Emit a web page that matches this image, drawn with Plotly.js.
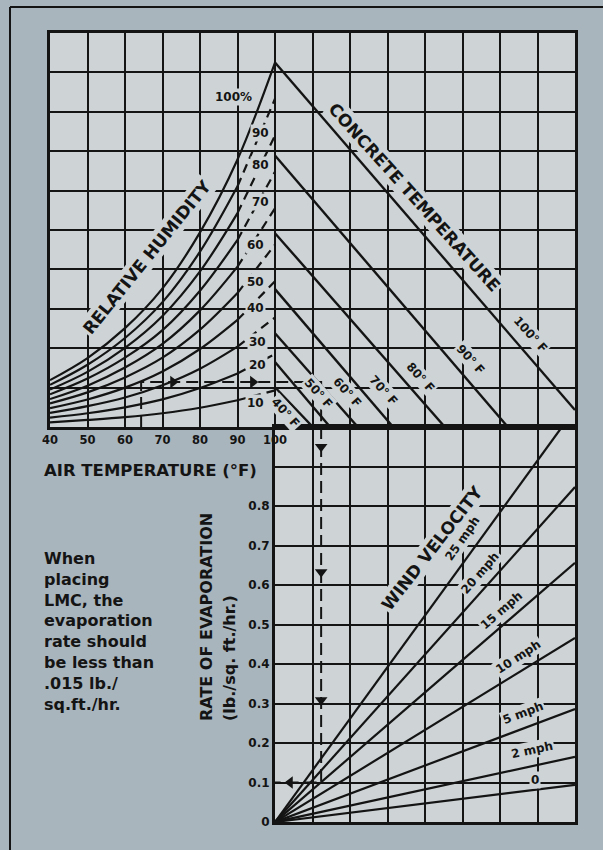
<!DOCTYPE html>
<html><head><meta charset="utf-8">
<script src="https://cdn.plot.ly/plotly-3.0.1.min.js"></script>
<style>html,body{margin:0;padding:0;background:#a9b5bd;}#chart{width:603px;height:850px;}</style>
</head><body><div id="chart"></div>
<script>
// ================= DATA =================
// Upper nomogram: air temperature axis (°F) and tick labels
const airTicks = [40, 50, 60, 70, 80, 90, 100, 110, 120, 130, 140, 150, 160, 170, 180];
const airTickText = ['40', '50', '60', '70', '80', '90', '100', '', '', '', '', '', '', '', ''];
// Relative humidity curves: vapour-pressure reading (grid units) at each air temperature
const airTemps = [40, 50, 60, 70, 80, 90, 100];
const rhLabels = ['100%', '90', '80', '70', '60', '50', '40', '30', '20', '10'];
const rh100 = [1.19, 1.75, 2.51, 3.52, 4.94, 6.79, 9.25];
const rh90  = [1.07, 1.58, 2.26, 3.17, 4.45, 6.11, 8.33];
const rh80  = [0.95, 1.40, 2.01, 2.82, 3.95, 5.43, 7.40];
const rh70  = [0.83, 1.23, 1.76, 2.46, 3.46, 4.75, 6.48];
const rh60  = [0.71, 1.05, 1.51, 2.11, 2.96, 4.07, 5.55];
const rh50  = [0.60, 0.88, 1.26, 1.76, 2.47, 3.40, 4.63];
const rh40  = [0.48, 0.70, 1.00, 1.41, 1.98, 2.72, 3.70];
const rh30  = [0.36, 0.53, 0.75, 1.06, 1.48, 2.04, 2.78];
const rh20  = [0.24, 0.35, 0.50, 0.70, 0.99, 1.36, 1.85];
const rh10  = [0.12, 0.18, 0.25, 0.35, 0.49, 0.68, 0.93];
const rhCurves = [rh100, rh90, rh80, rh70, rh60, rh50, rh40, rh30, rh20, rh10];

// Concrete temperature lines: start on the 100 °F line, end on the lower edge
const concreteLabels = ['100° F', '90° F', '80° F', '70° F', '60° F', '50° F', '40° F'];
const concreteStartVP = [9.25, 6.89, 4.92, 3.50, 2.38, 1.65, 1.01];
const concreteEndX = [180, 162.1, 145.3, 131.5, 122.1, 114.7, 110.1];
const concreteEndVP = [0.43, 0, 0, 0, 0, 0, 0];

// Lower nomogram: rate of evaporation (lb./sq. ft./hr.)
const rateTicks = [0, 0.1, 0.2, 0.3, 0.4, 0.5, 0.6, 0.7, 0.8, 0.9, 1.0];
const rateTickText = ['0', '0.1', '0.2', '0.3', '0.4', '0.5', '0.6', '0.7', '0.8', '', ''];
// Wind velocity lines from origin to their end point
const windLabels = ['25 mph', '20 mph', '15 mph', '10 mph', '5 mph', '2 mph', '0'];
const windEndX = [7.65, 8, 8, 8, 8, 8, 8];
const windEndRate = [1.0, 0.848, 0.656, 0.466, 0.286, 0.165, 0.094];

// Worked example (dashed path)
const exAirTemp = 64.3;       // °F
const exVP = 1.14;            // vapour-pressure level reached
const exConcreteX = 112.3;    // where it meets the 60 °F concrete line
const exRate = 0.1;           // resulting rate of evaporation
const exArrowsTopX = [72.8, 94.1];
const exArrowsDownRate = [0.95, 0.633, 0.309];
const exArrowLeftX = 0.4;

// ================= STYLE / LAYOUT =================
const INK = '#141414';
const PLOT_BG = '#ced4d6';
const FONT = 'DejaVu Sans, Liberation Sans, Arial, sans-serif';
const bx = v => (v - 100) / 10;   // upper-axis °F → lower-axis grid units (same pixel scale)

const traces = [];
// RH curves
rhCurves.forEach((c, i) => {
  if (i === 0) {
    traces.push({x: airTemps, y: c, xaxis: 'x', yaxis: 'y', mode: 'lines',
      line: {color: INK, width: 2.2, shape: 'spline'}});
  } else {
    traces.push({x: airTemps.slice(0, 6), y: c.slice(0, 6), xaxis: 'x', yaxis: 'y', mode: 'lines',
      line: {color: INK, width: 2.2, shape: 'spline'}});
    traces.push({x: airTemps.slice(5), y: c.slice(5), xaxis: 'x', yaxis: 'y', mode: 'lines',
      line: {color: INK, width: 2.2, dash: '9px,6px'}});
  }
});
// Concrete temperature lines
concreteLabels.forEach((l, i) => {
  traces.push({x: [100, concreteEndX[i]], y: [concreteStartVP[i], concreteEndVP[i]],
    xaxis: 'x', yaxis: 'y', mode: 'lines', line: {color: INK, width: 2.4}});
});
// Wind lines
windLabels.forEach((l, i) => {
  traces.push({x: [0, windEndX[i]], y: [0, windEndRate[i]], xaxis: 'x2', yaxis: 'y2',
    mode: 'lines', line: {color: INK, width: 2.2}});
});
// Example path
traces.push({x: [exAirTemp, exAirTemp, exConcreteX, exConcreteX], y: [0, exVP, exVP, 0],
  xaxis: 'x', yaxis: 'y', mode: 'lines', line: {color: INK, width: 2, dash: '12px,6px'}});
traces.push({x: [bx(exConcreteX), bx(exConcreteX), 0], y: [1.0, exRate, exRate],
  xaxis: 'x2', yaxis: 'y2', mode: 'lines', line: {color: INK, width: 2, dash: '12px,6px'}});
traces.push({x: exArrowsTopX, y: exArrowsTopX.map(() => exVP), xaxis: 'x', yaxis: 'y', mode: 'markers',
  marker: {symbol: 'triangle-right', size: 11, color: INK}});
traces.push({x: exArrowsDownRate.map(() => bx(exConcreteX)), y: exArrowsDownRate, xaxis: 'x2', yaxis: 'y2',
  mode: 'markers', marker: {symbol: 'triangle-down', size: 11, color: INK}});
traces.push({x: [exArrowLeftX], y: [exRate], xaxis: 'x2', yaxis: 'y2', mode: 'markers',
  marker: {symbol: 'triangle-left', size: 11, color: INK}});

// ----- annotations -----
const ann = [];
function lab(text, x, y, xref, yref, size, angle, extra) {
  ann.push(Object.assign({text: '<b>' + text + '</b>', x: x, y: y, xref: xref, yref: yref,
    showarrow: false, textangle: angle || 0, bgcolor: PLOT_BG, borderpad: 1,
    font: {family: FONT, size: size, color: INK}}, extra || {}));
}
// RH labels (positions on chart)
const rhLabX = [88.8, 96, 96, 96, 94.7, 94.7, 94.7, 95.2, 95.2, 94.7];
const rhLabY = [8.37, 7.45, 6.64, 5.70, 4.61, 3.68, 3.02, 2.15, 1.57, 0.61];
rhLabels.forEach((t, i) => lab(t, rhLabX[i], rhLabY[i], 'x', 'y', 12, 0));
lab('RELATIVE HUMIDITY', 65.9, 4.31, 'x', 'y', 17, -51);
lab('CONCRETE TEMPERATURE', 137.1, 5.83, 'x', 'y', 17, 48);
const ctLabX = [168, 152, 138.7, 128.8, 119.2, 111.5, 102.9];
const ctLabY = [2.36, 1.72, 1.27, 0.94, 0.89, 0.86, 0.36];
concreteLabels.forEach((t, i) => lab(t, ctLabX[i], ctLabY[i], 'x', 'y', 12, 48));
// Wind labels
lab('WIND VELOCITY', 4.19, 0.694, 'x2', 'y2', 17, -52);
const wLabX = [5.01, 5.47, 6.05, 6.48, 6.61, 6.85, 6.93];
const wLabY = [0.719, 0.630, 0.537, 0.418, 0.276, 0.182, 0.106];
const wLabA = [-55, -49, -41, -33, -21, -12, 0];
windLabels.forEach((t, i) => lab(t, wLabX[i], wLabY[i], 'x2', 'y2', 12, wLabA[i]));

// Free text (paper coordinates)
const P = {x: px => (px - 50) / 525, y: py => (822 - py) / 789};
function ptxt(text, px, py, size, angle, xanchor, yanchor) {
  ann.push({text: '<b>' + text + '</b>', x: P.x(px), y: P.y(py), xref: 'paper', yref: 'paper',
    showarrow: false, textangle: angle || 0, xanchor: xanchor || 'center', yanchor: yanchor || 'middle',
    align: 'left', font: {family: FONT, size: size, color: INK}});
}
ptxt('AIR TEMPERATURE (°F)', 150, 470, 16.5, 0);
ptxt('When<br>placing<br>LMC, the<br>evaporation<br>rate should<br>be less than<br>.015 lb./<br>sq.ft./hr.', 42, 631, 16, 0, 'left', 'middle');
ptxt('RATE OF EVAPORATION', 206, 723, 16, -90, 'center', 'bottom');
ptxt('(lb./sq. ft./hr.)', 229, 723, 16, -90, 'center', 'bottom');

const axBase = {showgrid: true, gridcolor: INK, gridwidth: 2, showline: true, linecolor: INK,
  linewidth: 3, mirror: true, zeroline: false, ticks: '', fixedrange: true};

const layout = {
  width: 603, height: 850,
  margin: {l: 50, r: 28, t: 33, b: 28, pad: 0},
  paper_bgcolor: '#a9b5bd', plot_bgcolor: PLOT_BG,
  showlegend: false, hovermode: false,
  font: {family: FONT, color: INK},
  xaxis: Object.assign({}, axBase, {domain: [0, 1], range: [40, 180], anchor: 'y',
    tickmode: 'array', tickvals: airTicks, ticktext: airTickText,
    tickfont: {family: FONT, size: 11.5, color: INK, weight: 'bold'}}),
  yaxis: Object.assign({}, axBase, {domain: [0.5006, 1], range: [0, 10], dtick: 1, anchor: 'x',
    showticklabels: false}),
  xaxis2: Object.assign({}, axBase, {domain: [0.4286, 1], range: [0, 8], dtick: 1, anchor: 'y2',
    showticklabels: false}),
  yaxis2: Object.assign({}, axBase, {domain: [0, 0.5006], range: [0, 1.0], anchor: 'x2',
    tickmode: 'array', tickvals: rateTicks, ticktext: rateTickText,
    tickfont: {family: FONT, size: 12, color: INK, weight: 'bold'}}),
  annotations: ann,
  shapes: [
    {type: 'line', xref: 'paper', yref: 'paper', x0: P.x(10), x1: P.x(10), y0: P.y(850), y1: P.y(7),
      line: {color: INK, width: 2}},
    {type: 'line', xref: 'paper', yref: 'paper', x0: P.x(10), x1: P.x(603), y0: P.y(7), y1: P.y(7),
      line: {color: INK, width: 2}}
  ]
};

Plotly.newPlot('chart', traces, layout, {staticPlot: true, displayModeBar: false});
</script></body></html>
